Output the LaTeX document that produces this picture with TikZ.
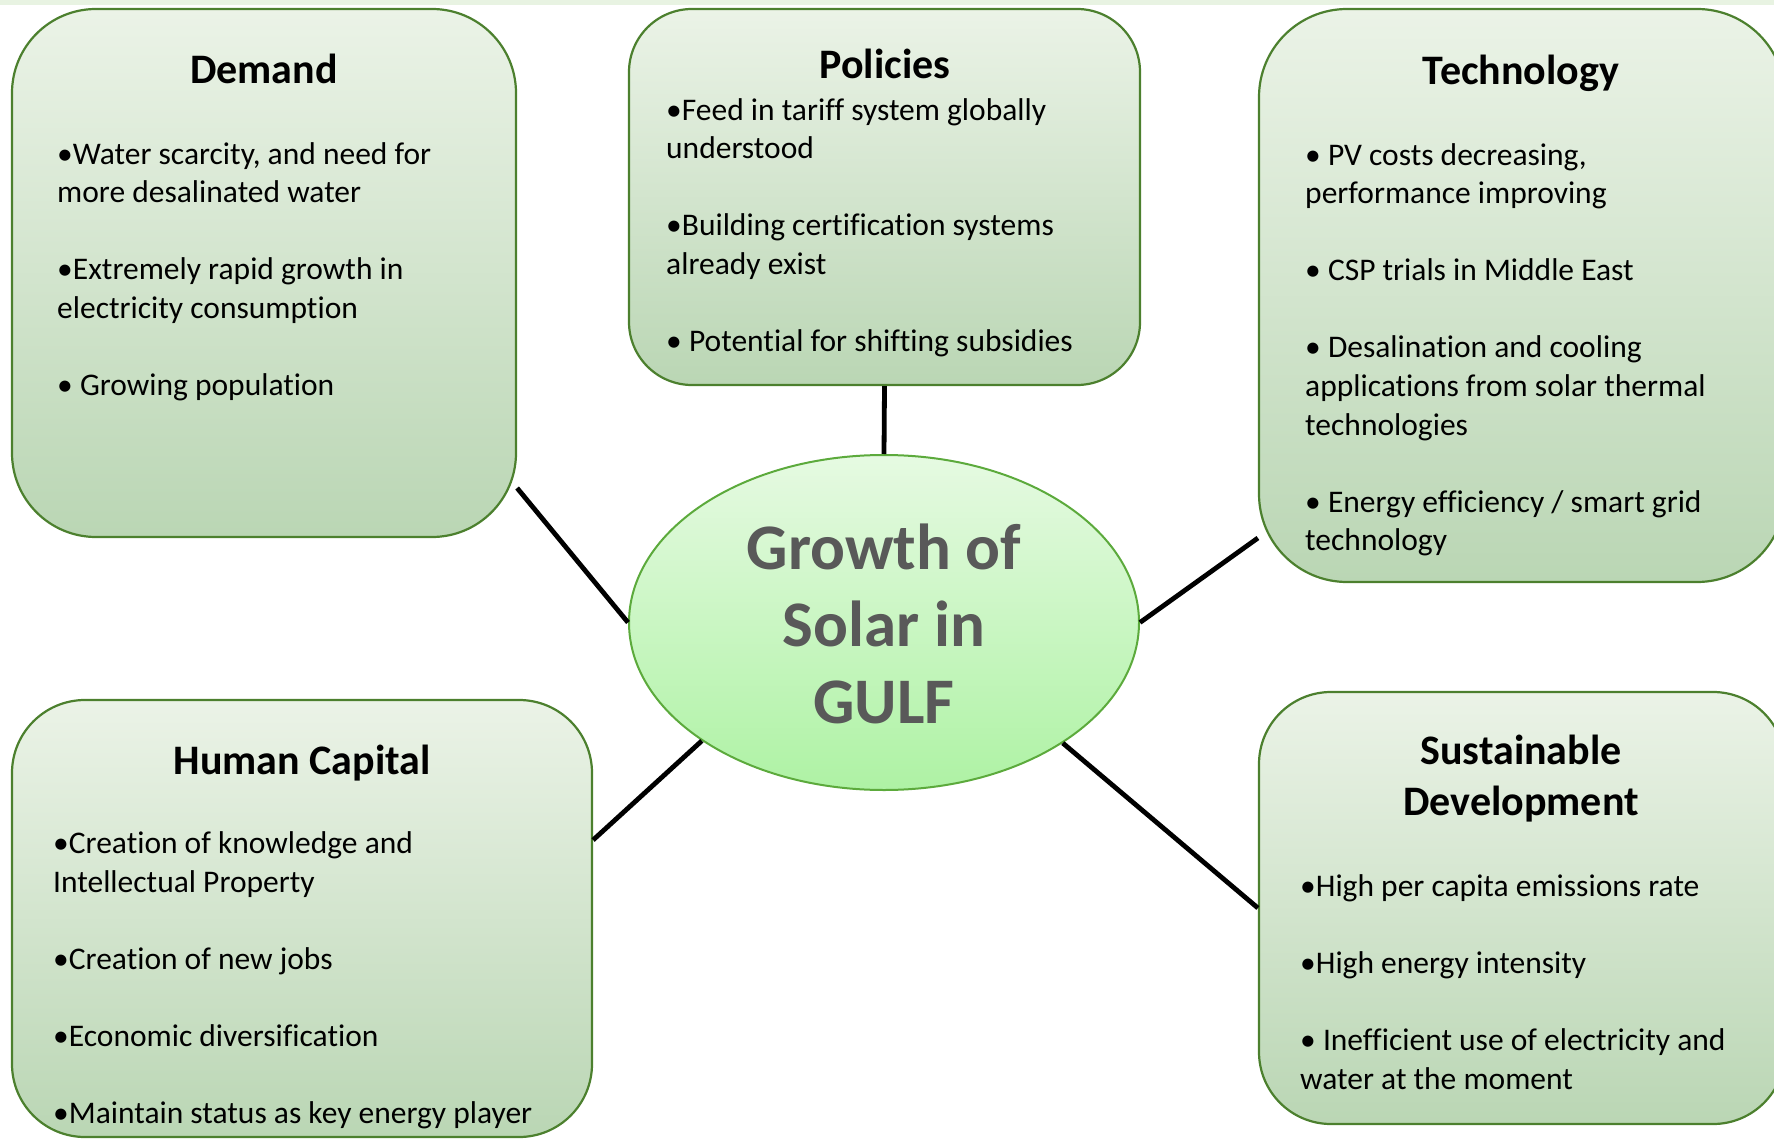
\documentclass[tikz,border=0pt]{standalone}
\usepackage{fontspec}
\setmainfont{Carlito}[Ligatures=NoCommon]
\usetikzlibrary{shapes.geometric}
\definecolor{boxtop}{RGB}{235,243,231}
\definecolor{boxbot}{RGB}{186,214,180}
\definecolor{boxline}{RGB}{76,128,46}
\definecolor{suntop}{RGB}{230,250,226}
\definecolor{sunbot}{RGB}{174,242,164}
\definecolor{sunline}{RGB}{92,170,60}
\definecolor{suntext}{RGB}{89,89,89}
\definecolor{strip}{RGB}{232,243,226}
\begin{document}
\begin{tikzpicture}[x=1pt,y=-1pt,
  box/.style={rectangle, draw=boxline, line width=2.2pt, top color=boxtop, bottom color=boxbot, inner sep=0pt},
  sun/.style={ellipse, draw=sunline, line width=2pt, top color=suntop, bottom color=sunbot, inner sep=0pt, minimum width=510pt, minimum height=335pt},
  ttl/.style={anchor=base, inner sep=0pt, font=\fontsize{42}{51}\selectfont\bfseries},
  txt/.style={anchor=base west, inner sep=0pt, font=\fontsize{31.5}{38.5}\selectfont},
  sunt/.style={anchor=base, inner sep=0pt, text=suntext, font=\fontsize{65}{77}\selectfont\bfseries},
  conn/.style={line width=4.8pt, black}
]
\useasboundingbox (0,0) rectangle (1774,1139);
\clip (0,0) rectangle (1774,1139);
\fill[strip] (0,0) rectangle (1774,5);

% boxes
\node[box, minimum width=504pt, minimum height=528pt, rounded corners=84pt] (demand) at (264,273) {};
\node[box, minimum width=511pt, minimum height=376pt, rounded corners=63pt] (policies) at (884.5,197) {};
\node[box, minimum width=526pt, minimum height=573pt, rounded corners=88pt] (tech) at (1522,295.5) {};
\node[box, minimum width=580pt, minimum height=437pt, rounded corners=73pt] (human) at (302,918.5) {};
\node[box, minimum width=526pt, minimum height=432pt, rounded corners=72pt] (sust) at (1522,908) {};
\node[sun] (sun) at (884,622.5) {};

% connectors
\draw[conn] (policies.south) -- (sun.north);
\draw[conn] ([yshift=-215pt]demand.east) -- (sun.west);
\draw[conn] ([yshift=-242.5pt]tech.west) -- (sun.east);
\draw[conn] ([yshift=78.5pt]human.east) -- (sun.213.4);
\draw[conn] (sust.west) -- (sun.326.4);

% centre text
\node[sunt] (c1) at (884,569.5) {Growth of};
\node[sunt] (c2) at (884,646.5) {Solar in};
\node[sunt] (c3) at (884,723) {GULF};

% Demand
\node[ttl] (dT) at (264,84) {Demand};
\node[txt] (d1) at (57,164.5) {•Water scarcity, and need for};
\node[txt] (d2) at (57,203) {more desalinated water};
\node[txt] (d3) at (57,280) {•Extremely rapid growth in};
\node[txt] (d4) at (57,318.5) {electricity consumption};
\node[txt] (d5) at (57,395.5) {• Growing population};

% Policies
\node[ttl] (pT) at (885,79) {Policies};
\node[txt] (p1) at (666,120.5) {•Feed in tariff system globally};
\node[txt] (p2) at (666,159) {understood};
\node[txt] (p3) at (666,236) {•Building certification systems};
\node[txt] (p4) at (666,274.5) {already exist};
\node[txt] (p5) at (666,351.5) {• Potential for shifting subsidies};

% Technology
\node[ttl] (tT) at (1521,85) {Technology};
\node[txt] (t1) at (1305,165.5) {• PV costs decreasing,};
\node[txt] (t2) at (1305,204) {performance improving};
\node[txt] (t3) at (1305,281) {• CSP trials in Middle East};
\node[txt] (t4) at (1305,358) {• Desalination and cooling};
\node[txt] (t5) at (1305,396.5) {applications from solar thermal};
\node[txt] (t6) at (1305,435) {technologies};
\node[txt] (t7) at (1305,512) {• Energy efficiency / smart grid};
\node[txt] (t8) at (1305,550.5) {technology};

% Human Capital
\node[ttl] (hT) at (302,774) {Human Capital};
\node[txt] (h1) at (53,853.5) {•Creation of knowledge and};
\node[txt] (h2) at (53,892) {Intellectual Property};
\node[txt] (h3) at (53,969) {•Creation of new jobs};
\node[txt] (h4) at (53,1046) {•Economic diversification};
\node[txt] (h5) at (53,1123) {•Maintain status as key energy player};

% Sustainable Development
\node[ttl] (sT1) at (1521,764) {Sustainable};
\node[ttl] (sT2) at (1521,815) {Development};
\node[txt] (s1) at (1300,896.5) {•High per capita emissions rate};
\node[txt] (s2) at (1300,973.5) {•High energy intensity};
\node[txt] (s3) at (1300,1050.5) {• Inefficient use of electricity and};
\node[txt] (s4) at (1300,1089) {water at the moment};
\end{tikzpicture}
\end{document}
